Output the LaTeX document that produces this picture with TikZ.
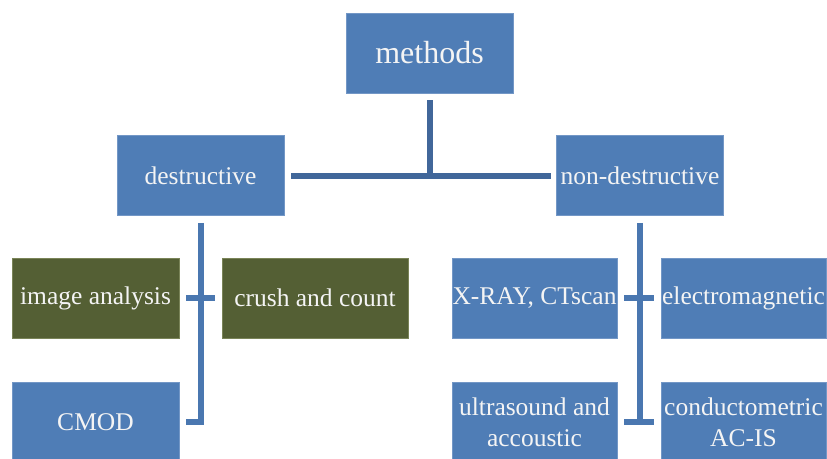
\documentclass[tikz,border=0pt]{standalone}
\usepackage{fontspec}
\setmainfont{Liberation Serif}
\definecolor{boxblue}{HTML}{4F7DB6}
\definecolor{boxblueedge}{HTML}{7397C6}
\definecolor{boxgreen}{HTML}{545F34}
\definecolor{boxgreenedge}{HTML}{7A8458}
\definecolor{topline}{HTML}{41679A}
\definecolor{lowline}{HTML}{4A77B0}
\definecolor{boxtext}{HTML}{F4F4F4}
\tikzset{
  bluebox/.style={draw=boxblueedge, line width=0.8pt, fill=boxblue, text=boxtext,
    minimum width=165pt, minimum height=80pt, inner sep=0pt, align=center,
    font=\fontsize{25.5}{31}\selectfont},
  greenbox/.style={bluebox, draw=boxgreenedge, fill=boxgreen},
  topconn/.style={draw=topline, line width=6pt},
  lowconn/.style={draw=lowline, line width=6pt},
}
\begin{document}
\begin{tikzpicture}[x=1pt,y=-1pt]
\useasboundingbox (0,0) rectangle (827,458);
\clip (0,0) rectangle (827,458);
\node[bluebox, minimum width=167pt, font=\fontsize{32}{38}\selectfont] (methods) at (429.5,53) {methods};
\node[bluebox, minimum width=167pt] (destr) at (200.5,175.5) {destructive};
\node[bluebox, minimum width=167pt] (nondestr) at (640,175.5) {non-destructive};
\node[greenbox, minimum width=167pt] (imganal) at (95.5,298) {image analysis};
\node[greenbox, minimum width=186pt] (crush) at (315,298) {crush and count};
\node[bluebox] (xray) at (534.5,298) {X-RAY, CTscan};
\node[bluebox] (electro) at (743.5,298) {electromagnetic};
\node[bluebox, minimum width=167pt] (cmod) at (95.5,422) {CMOD};
\node[bluebox] (ultra) at (534.5,422) {ultrasound and\\accoustic};
\node[bluebox] (conduct) at (743.5,422) {conductometric\\AC-IS};
% top connectors
\draw[topconn, shorten <=7pt] (methods.south) -- (methods.south |- destr.east);
\draw[topconn, shorten <=7pt, shorten >=5pt] (destr.east) -- (nondestr.west);
% destructive branch
\draw[lowconn, shorten <=7pt, shorten >=7pt] (destr.south) -- (destr.south |- cmod.east) -- (cmod.east);
\draw[lowconn, shorten <=7pt, shorten >=7pt] (imganal.east) -- (crush.west);
% non-destructive branch
\draw[lowconn, shorten <=7pt] (nondestr.south) -- (nondestr.south |- ultra.east);
\draw[lowconn, shorten <=7pt, shorten >=7pt] (xray.east) -- (electro.west);
\draw[lowconn, shorten <=7pt, shorten >=7pt] (ultra.east) -- (conduct.west);
\end{tikzpicture}
\end{document}
